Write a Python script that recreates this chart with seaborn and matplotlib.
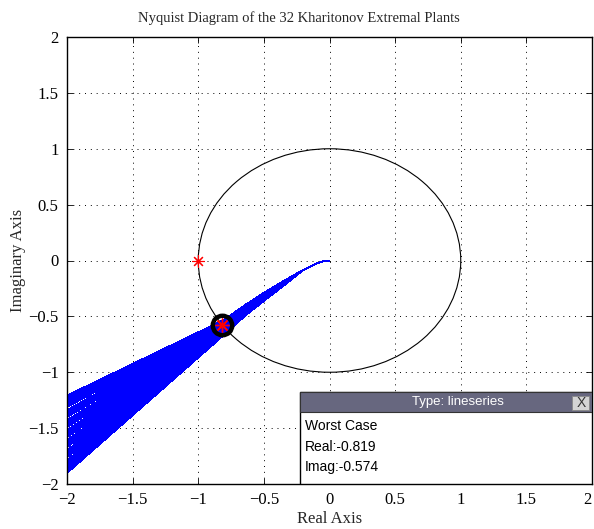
import matplotlib
matplotlib.use("Agg")
import matplotlib.pyplot as plt
import numpy as np
import pandas as pd
import seaborn as sns
from matplotlib.patches import Rectangle, Circle

# ---------------- data ----------------
# shared start of every curve (near the origin the 32 curves coincide)
shared_re = [0.0, -0.05, -0.10, -0.20]
shared_im = [0.0, -0.008, -0.028, -0.085]
# per-plant imaginary parts read at fixed real-axis positions
plant_re = [-0.35, -0.5, -0.65, -0.8, -2.0]
im_at_035 = [-0.185, -0.186, -0.188, -0.189, -0.190, -0.191, -0.193, -0.194,
             -0.195, -0.197, -0.198, -0.199, -0.200, -0.202, -0.203, -0.204,
             -0.206, -0.207, -0.208, -0.209, -0.211, -0.212, -0.213, -0.215,
             -0.216, -0.217, -0.218, -0.220, -0.221, -0.222, -0.224, -0.225]
im_at_050 = [-0.290, -0.292, -0.295, -0.297, -0.299, -0.301, -0.304, -0.306,
             -0.308, -0.310, -0.313, -0.315, -0.317, -0.319, -0.322, -0.324,
             -0.326, -0.328, -0.331, -0.333, -0.335, -0.337, -0.340, -0.342,
             -0.344, -0.346, -0.349, -0.351, -0.353, -0.355, -0.358, -0.360]
im_at_065 = [-0.405, -0.408, -0.411, -0.414, -0.417, -0.420, -0.423, -0.426,
             -0.429, -0.433, -0.436, -0.439, -0.442, -0.445, -0.448, -0.451,
             -0.454, -0.457, -0.460, -0.463, -0.466, -0.469, -0.472, -0.475,
             -0.478, -0.482, -0.485, -0.488, -0.491, -0.494, -0.497, -0.500]
im_at_080 = [-0.530, -0.534, -0.538, -0.543, -0.547, -0.551, -0.555, -0.559,
             -0.564, -0.568, -0.572, -0.576, -0.580, -0.585, -0.589, -0.593,
             -0.597, -0.601, -0.605, -0.610, -0.614, -0.618, -0.622, -0.626,
             -0.631, -0.635, -0.639, -0.643, -0.647, -0.652, -0.656, -0.660]
im_at_200 = [-1.21, -1.23, -1.25, -1.27, -1.29, -1.31, -1.34, -1.36,
             -1.38, -1.40, -1.43, -1.45, -1.47, -1.49, -1.52, -1.54,
             -1.56, -1.58, -1.61, -1.63, -1.65, -1.67, -1.70, -1.72,
             -1.74, -1.76, -1.79, -1.81, -1.83, -1.85, -1.88, -1.90]

critical_re, critical_im = -1.0, 0.0
worst_re, worst_im = -0.819, -0.574

tick_values = [-2, -1.5, -1, -0.5, 0, 0.5, 1, 1.5, 2]
tick_labels = ["\u22122", "\u22121.5", "\u22121", "\u22120.5", "0", "0.5", "1", "1.5", "2"]

title_text = "Nyquist Diagram of the 32 Kharitonov Extremal Plants"
xlabel_text = "Real Axis"
ylabel_text = "Imaginary Axis"
tip_header = "Type: lineseries"
tip_lines = ["Worst Case", "Real:-0.819", "Imag:-0.574"]

# ---------------- build long table ----------------
rows = []
for k in range(len(im_at_200)):
    xs = shared_re + plant_re
    ys = shared_im + [im_at_035[k], im_at_050[k], im_at_065[k],
                      im_at_080[k], im_at_200[k]]
    for order, (xr, yi) in enumerate(zip(xs, ys)):
        rows.append({"plant": k, "order": order, "re": xr, "im": yi})
df = pd.DataFrame(rows)

# ---------------- style ----------------
sns.set_style("white")
plt.rcParams["font.family"] = ["Liberation Serif", "DejaVu Serif"]
plt.rcParams["axes.unicode_minus"] = True

fig = plt.figure(figsize=(5.94, 5.29), dpi=100)
ax = fig.add_axes([67 / 594, 45 / 529, 525 / 594, 447 / 529])

sns.lineplot(data=df, x="re", y="im", units="plant", estimator=None,
             sort=False, color="#0000ff", linewidth=0.7, ax=ax, legend=False,
             zorder=3, antialiased=False)

ax.add_patch(Circle((0, 0), 1.0, fill=False, edgecolor="black",
                    linewidth=0.8, zorder=2))

asterisk = (8, 2, 0)
ax.plot([critical_re], [critical_im], linestyle="none", marker=asterisk,
        markersize=9, markeredgecolor="#ff0000", markeredgewidth=0.8, zorder=4)
ax.plot([worst_re], [worst_im], linestyle="none", marker="o", markersize=14,
        markerfacecolor="none", markeredgecolor="black", markeredgewidth=3.2,
        zorder=5)
ax.plot([worst_re], [worst_im], linestyle="none", marker=asterisk,
        markersize=10, markeredgecolor="#ff0000", markeredgewidth=1.0, zorder=6)

ax.set_xlim(-2, 2)
ax.set_ylim(-2, 2)
ax.set_xticks(tick_values)
ax.set_xticklabels(tick_labels)
ax.set_yticks(tick_values)
ax.set_yticklabels(tick_labels)
ax.tick_params(direction="in", length=4, width=0.6, top=True, right=True,
               bottom=True, left=True, labelsize=12, pad=6, colors="black")
ax.get_xticklabels()[-1].set_horizontalalignment("right")
ax.grid(True, color="black", linestyle=(0, (1, 5)), linewidth=0.7)
for s in ax.spines.values():
    s.set_color("black")
    s.set_linewidth(1.0)
    s.set_zorder(7)

fig.text(0.503, 1 - 18 / 529, title_text, ha="center", va="center",
         fontsize=10.5)
ax.set_xlabel(xlabel_text, fontsize=12, labelpad=2)
ax.set_ylabel(ylabel_text, fontsize=12, labelpad=2)

# ---------------- data tip box ----------------
tip_left, tip_right = -0.225, 2.0
tip_top, head_bottom, tip_bottom = -1.18, -1.36, -2.0
ax.add_patch(Rectangle((tip_left, tip_bottom), tip_right - tip_left,
                       tip_top - tip_bottom, facecolor="white",
                       edgecolor="black", linewidth=1.0, zorder=8))
ax.add_patch(Rectangle((tip_left, head_bottom), tip_right - tip_left,
                       tip_top - head_bottom, facecolor="#67677f",
                       edgecolor="#333333", linewidth=0.8, zorder=9))
ax.add_patch(Rectangle((1.85, head_bottom + 0.02), 0.13,
                       tip_top - head_bottom - 0.05, facecolor="#d4d4d4",
                       edgecolor="#888888", linewidth=0.6, zorder=10))
ax.text(1.915, (tip_top + head_bottom) / 2 - 0.005, "X", ha="center",
        va="center", fontsize=10, family="Liberation Sans", color="#333333",
        zorder=11)
ax.text(0.98, (tip_top + head_bottom) / 2, tip_header, ha="center",
        va="center", fontsize=9.5, family="Liberation Sans", color="white",
        zorder=11)
for i, line in enumerate(tip_lines):
    ax.text(tip_left + 0.04, head_bottom - 0.12 - i * 0.185, line,
            ha="left", va="center", fontsize=10, family="Liberation Sans",
            color="black", zorder=11)

fig.savefig("out.png", dpi=100)
